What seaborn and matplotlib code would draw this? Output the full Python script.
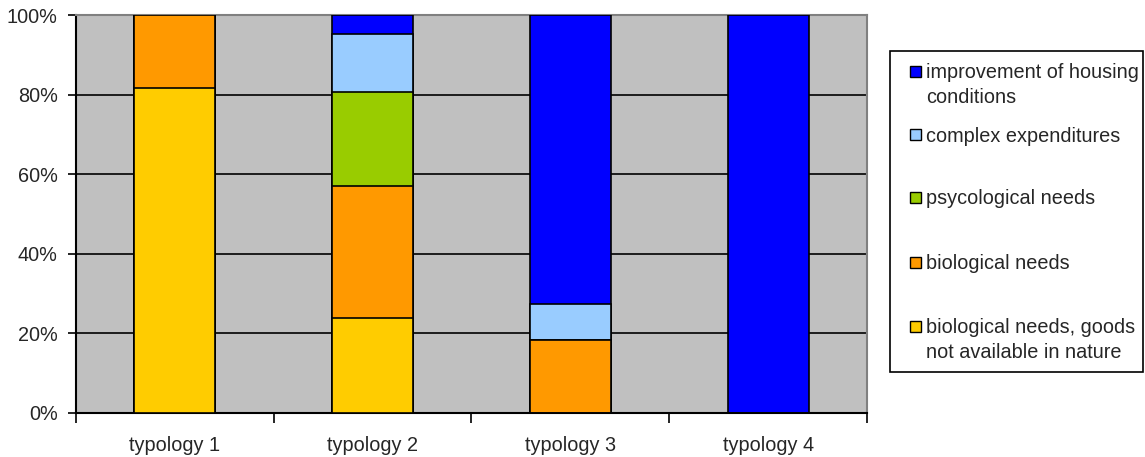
import matplotlib
matplotlib.use("Agg")
import matplotlib.pyplot as plt
from matplotlib.patches import Rectangle
from matplotlib.ticker import FixedLocator, FuncFormatter
import numpy as np
import pandas as pd
import seaborn as sns

# Category labels and series values (percent of each typology)
typologies = ["typology 1", "typology 2", "typology 3", "typology 4"]
goods_not_in_nature = [81.6, 23.8, 0.0, 0.0]
biological_needs = [18.4, 33.2, 18.4, 0.0]
psycological_needs = [0.0, 23.8, 0.0, 0.0]
complex_expenditures = [0.0, 14.4, 8.9, 0.0]
housing_improvement = [0.0, 4.8, 72.7, 100.0]

series_names = [
    "biological needs, goods\nnot available in nature",
    "biological needs",
    "psycological needs",
    "complex expenditures",
    "improvement of housing\nconditions",
]
series_colors = ["#FFCC00", "#FF9900", "#99CC00", "#99CCFF", "#0000FF"]
y_ticks = [0, 20, 40, 60, 80, 100]

sns.set_style("white")
plt.rcParams["font.family"] = ["Liberation Sans", "DejaVu Sans"]
FS = 14.3

df = pd.DataFrame(
    {
        series_names[0]: goods_not_in_nature,
        series_names[1]: biological_needs,
        series_names[2]: psycological_needs,
        series_names[3]: complex_expenditures,
        series_names[4]: housing_improvement,
    },
    index=typologies,
)
cum = df.cumsum(axis=1)

fig = plt.figure(figsize=(11.45, 4.57), dpi=100)
W, H = 1145, 457
ax = fig.add_axes([75.7 / W, 1 - 412.7 / H, (867.3 - 75.7) / W, (412.7 - 15.3) / H])
ax.set_facecolor("#C0C0C0")

# Stacked bars: draw cumulative totals from the top series down
for name, color in zip(series_names[::-1], series_colors[::-1]):
    sns.barplot(
        x=typologies,
        y=cum[name].values,
        color=color,
        width=0.41,
        edgecolor="black",
        linewidth=1.2,
        saturation=1,
        ax=ax,
        zorder=3,
    )

ax.set_xlim(-0.5, 3.5)
ax.set_ylim(0, 100)
ax.set_yticks(y_ticks)
ax.yaxis.set_major_formatter(FuncFormatter(lambda v, p: f"{int(v)}%"))
ax.yaxis.grid(True, color="black", linewidth=1.2, zorder=1)
ax.set_axisbelow(True)

# Category separators as major ticks, labels on minor ticks at bar centres
ax.xaxis.set_major_locator(FixedLocator([-0.5, 0.5, 1.5, 2.5, 3.5]))
ax.xaxis.set_major_formatter(FuncFormatter(lambda v, p: ""))
ax.xaxis.set_minor_locator(FixedLocator([0, 1, 2, 3]))
ax.set_xticklabels(typologies, minor=True)
ax.tick_params(axis="x", which="major", direction="out", length=7, width=1.2,
               color="black", bottom=True)
ax.tick_params(axis="x", which="minor", length=0, pad=17, labelsize=FS)
ax.tick_params(axis="y", direction="out", length=6, width=1.2, color="black",
               left=True, labelsize=FS, pad=7)
ax.set_xlabel("")
ax.set_ylabel("")

for side in ["left", "bottom"]:
    ax.spines[side].set_color("black")
    ax.spines[side].set_linewidth(1.5)
for side in ["top", "right"]:
    ax.spines[side].set_color("#808080")
    ax.spines[side].set_linewidth(1.5)
    ax.spines[side].set_visible(True)

# Legend panel
def px(x, y):
    return x / W, 1 - y / H

lx0, ly0, lx1, ly1 = 890, 51, 1143, 372
fig.add_artist(Rectangle(px(lx0, ly1), (lx1 - lx0) / W, (ly1 - ly0) / H,
                         transform=fig.transFigure, facecolor="white",
                         edgecolor="black", linewidth=1.2))
entry_baselines = [78.3, 141.7, 204.3, 269.3, 333.3]
line_step = 24.5
for name, color, base in zip(series_names[::-1], series_colors[::-1], entry_baselines):
    cy = base - 6.8
    fig.add_artist(Rectangle(px(910, cy + 5.5), 11 / W, 11 / H,
                             transform=fig.transFigure, facecolor=color,
                             edgecolor="black", linewidth=1.0))
    for i, line in enumerate(name.split("\n")):
        fig.text(*px(926.5, base + i * line_step), line, fontsize=FS,
                 va="baseline", ha="left")

fig.savefig("out.png", dpi=100)
